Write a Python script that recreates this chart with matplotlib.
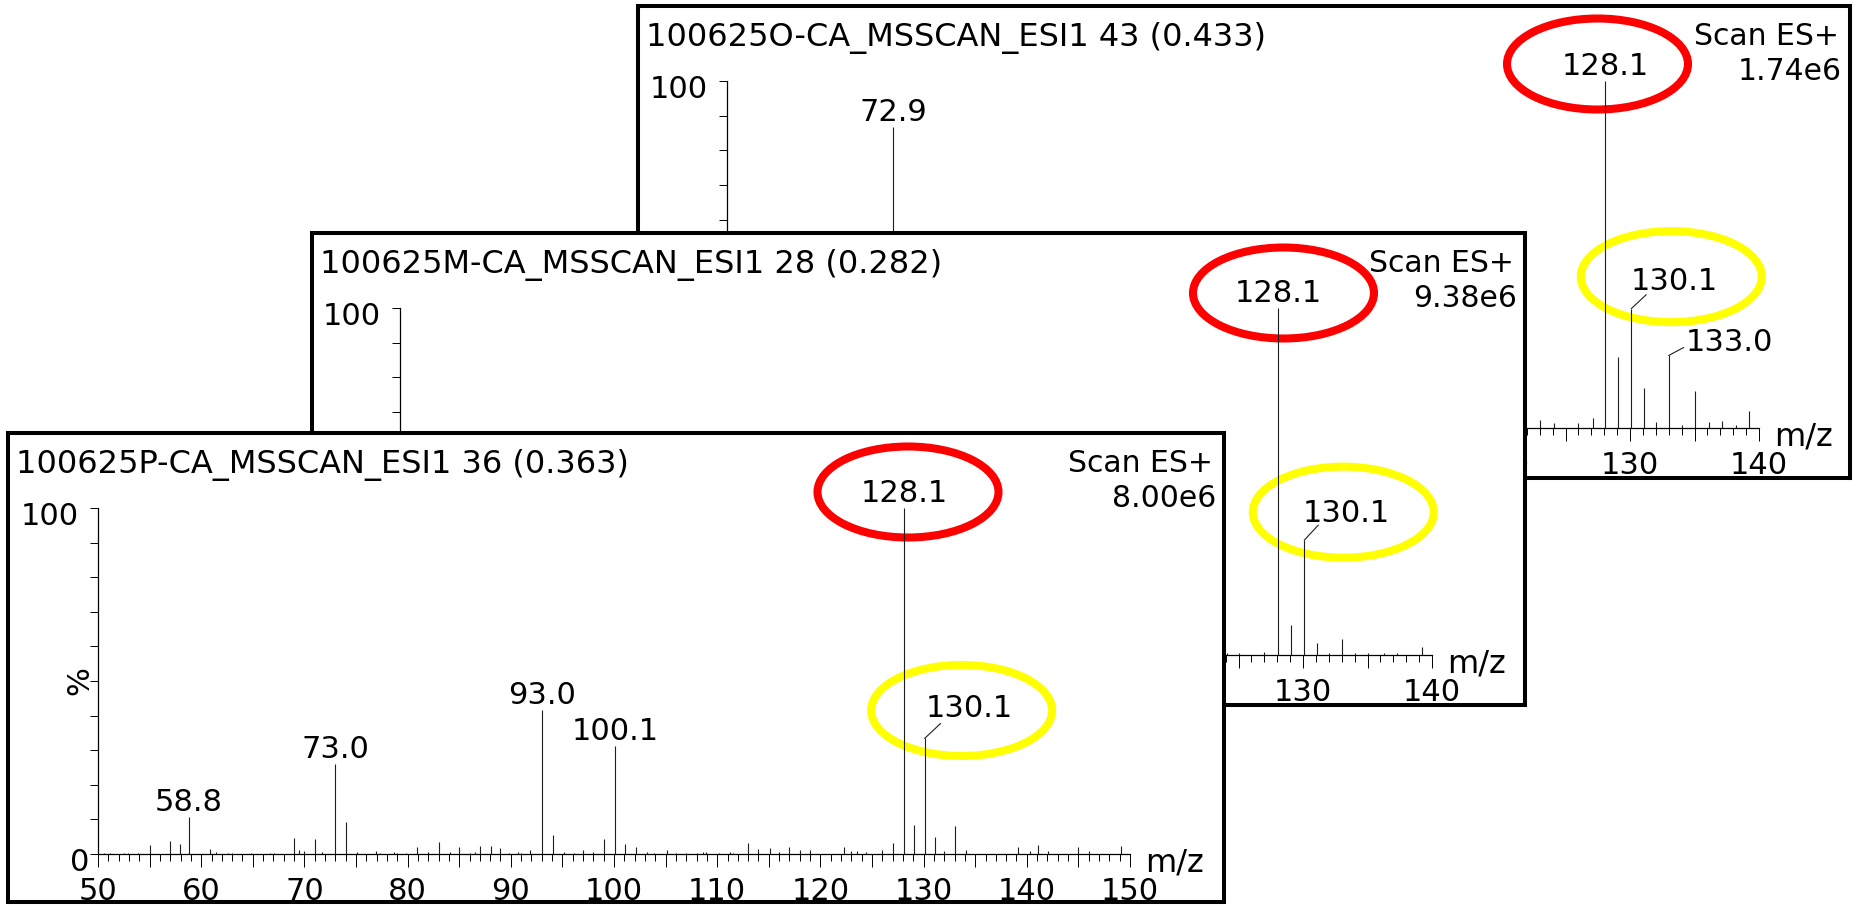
import matplotlib
matplotlib.use("Agg")
import matplotlib.pyplot as plt
from matplotlib.patches import Ellipse
from matplotlib.transforms import ScaledTranslation, blended_transform_factory
from matplotlib.ticker import MultipleLocator, FuncFormatter, FixedLocator

W, H, DPI = 1855, 905, 100
plt.rcParams["font.family"] = ["DejaVu Sans"]

# ------------------------------------------------------------------ data
# back spectrum (O)
o_title = "100625O-CA_MSSCAN_ESI1 43 (0.433)"
o_scan = "Scan ES+"
o_tic = "1.74e6"
o_range = (60, 140)
o_mz = [72.9, 123.0, 124.1, 126.0, 127.1, 128.1, 129.1, 130.1, 131.1, 132.0,
        133.0, 134.0, 135.0, 136.1, 137.1, 138.2, 139.2]
o_int = [86.7, 2.4, 1.3, 1.3, 2.9, 100.0, 20.5, 34.4, 11.6, 1.6,
         20.9, 0.8, 10.6, 1.7, 1.9, 1.0, 4.8]
o_labelled = [72.9, 128.1, 130.1, 133.0]

# middle spectrum (M)
m_title = "100625M-CA_MSSCAN_ESI1 28 (0.282)"
m_scan = "Scan ES+"
m_tic = "9.38e6"
m_range = (60, 140)
m_mz = [124.1, 125.0, 127.0, 128.1, 129.1, 130.1, 131.1, 132.0, 133.0, 134.0,
        135.0, 136.3, 137.3, 139.2]
m_int = [0.6, 0.7, 0.8, 100.0, 8.6, 33.1, 3.6, 0.5, 4.5, 0.7,
         0.5, 0.5, 0.7, 2.2]
m_labelled = [128.1, 130.1]

# front spectrum (P)
p_title = "100625P-CA_MSSCAN_ESI1 36 (0.363)"
p_scan = "Scan ES+"
p_tic = "8.00e6"
p_range = (50, 150)
p_mz = [50.6, 51.2, 52.5, 52.9, 53.9, 55.0, 57.0, 57.9, 58.8, 60.9, 61.4, 62.6,
        63.0, 64.8, 66.7, 67.1, 69.0, 69.5, 70.0, 71.0, 71.7, 73.0, 74.0, 75.1,
        76.9, 77.3, 78.7, 79.0, 79.8, 80.9, 82.0, 83.0, 84.1, 85.0, 86.0, 86.5,
        87.0, 88.1, 89.0, 89.8, 90.7, 91.0, 91.9, 93.0, 94.1, 95.2, 96.1, 97.0,
        98.0, 99.0, 100.1, 101.1, 102.1, 103.2, 103.9, 105.1, 106.0, 107.0,
        108.0, 108.6, 108.9, 110.2, 111.2, 111.5, 113.0, 114.0, 115.1, 116.0,
        117.0, 118.0, 119.0, 122.3, 123.0, 123.5, 124.4, 126.0, 127.0, 128.1,
        129.1, 130.1, 131.1, 132.0, 133.0, 134.1, 139.1, 140.3, 141.1, 142.1,
        145.0, 146.0, 149.1]
p_int = [0.4, 0.2, 0.4, 0.4, 0.2, 2.6, 3.8, 2.8, 10.6, 1.4, 0.5, 0.4,
         0.4, 0.2, 0.2, 0.2, 4.6, 1.1, 0.9, 4.3, 0.5, 26.0, 9.3, 0.6,
         0.9, 0.4, 0.5, 0.4, 0.4, 2.1, 0.7, 3.4, 0.7, 2.1, 0.4, 0.5,
         2.3, 2.3, 1.6, 0.2, 0.5, 0.4, 1.2, 41.6, 5.5, 0.7, 0.4, 1.2,
         0.5, 4.2, 31.3, 2.9, 1.9, 0.6, 0.4, 1.2, 0.4, 0.4,
         0.4, 0.5, 0.7, 0.4, 0.6, 0.4, 3.1, 1.4, 1.6, 0.6,
         2.1, 1.3, 1.3, 2.1, 0.9, 0.9, 0.7, 1.3, 3.1, 100.0,
         8.4, 33.4, 4.8, 0.9, 8.1, 1.2, 2.1, 0.9, 2.6, 0.9,
         1.9, 0.9, 2.3]
p_labelled = [58.8, 73.0, 93.0, 100.1, 128.1, 130.1]

# ------------------------------------------------------------------ layout / style
FS_TITLE, FS_LAB, FS_TICK = 23, 22, 22
LINE = "#1e1e1e"
ELL_W, ELL_H, ELL_LW = 181, 91, 5.8     # ellipse size (px) and stroke (pt)

panels = [
    dict(title=o_title, scan=o_scan, tic=o_tic, rng=o_range, mz=o_mz, it=o_int,
         lab=o_labelled, box=(638, 6, 1850, 478), axes=(727, 81, 1759, 428), z=1,
         offsets={130.1: (43, 19, 15, 14), 133.0: (61, 4, 15, 8)},
         ellipses=[(128.1, "#ff0000", -8, 17), (130.1, "#ffff00", 40, 32)]),
    dict(title=m_title, scan=m_scan, tic=m_tic, rng=m_range, mz=m_mz, it=m_int,
         lab=m_labelled, box=(312, 233, 1525, 705), axes=(400, 308, 1432, 655), z=3,
         offsets={130.1: (42, 18, 14, 15)},
         ellipses=[(128.1, "#ff0000", 5, 15), (130.1, "#ffff00", 39, 28)]),
    dict(title=p_title, scan=p_scan, tic=p_tic, rng=p_range, mz=p_mz, it=p_int,
         lab=p_labelled, box=(8, 433, 1224, 902), axes=(98, 508, 1130, 854), z=5,
         offsets={130.1: (45, 21, 16, 15)},
         ellipses=[(128.1, "#ff0000", 4, 16), (130.1, "#ffff00", 37, 28)]),
]


def px_rect(l, t, r, b):
    return [l / W, 1 - b / H, (r - l) / W, (b - t) / H]


fig = plt.figure(figsize=(W / DPI, H / DPI), dpi=DPI)
fig.patch.set_facecolor("white")


def off(dx, dy):
    return ScaledTranslation(dx / DPI, dy / DPI, fig.dpi_scale_trans)


for p in panels:
    # frame of the screenshot
    box = fig.add_axes(px_rect(*p["box"]), zorder=p["z"])
    box.set_facecolor("white")
    box.set_xticks([]); box.set_yticks([])
    for s in box.spines.values():
        s.set_linewidth(2.9); s.set_color("black")
    box.text(0, 1, p["title"], transform=box.transAxes + off(8, -40),
             ha="left", va="baseline", fontsize=FS_TITLE)
    box.text(1, 1, p["scan"], transform=box.transAxes + off(-11, -39),
             ha="right", va="baseline", fontsize=21.5)
    box.text(1, 1, p["tic"], transform=box.transAxes + off(-8, -74),
             ha="right", va="baseline", fontsize=21.5)

    # spectrum
    ax = fig.add_axes(px_rect(*p["axes"]), zorder=p["z"] + 0.5)
    ax.patch.set_visible(False)
    for k in ("top", "right"):
        ax.spines[k].set_visible(False)
    for k in ("left", "bottom"):
        ax.spines[k].set_linewidth(0.9)
        ax.spines[k].set_color("black")
    ax.vlines(p["mz"], 0, p["it"], colors=LINE, linewidth=0.8)

    heights = dict(zip(p["mz"], p["it"]))
    for mz in p["lab"]:
        h = heights[mz]
        dx, dy, lx, ly = p["offsets"].get(mz, (0, 6, None, None))
        ax.annotate(f"{mz:.1f}", xy=(mz, h), xytext=(dx, dy), textcoords="offset pixels",
                    ha="center", va="baseline", fontsize=FS_LAB, annotation_clip=False)
        if lx is not None:
            ax.annotate("", xy=(mz, h), xytext=(lx, ly), textcoords="offset pixels",
                        annotation_clip=False,
                        arrowprops=dict(arrowstyle="-", color=LINE, lw=0.8,
                                        shrinkA=0, shrinkB=0))
    for mz, col, ex, ey in p["ellipses"]:
        e = Ellipse((ex / DPI, ey / DPI), ELL_W / DPI, ELL_H / DPI, fill=False,
                    edgecolor=col, linewidth=ELL_LW,
                    transform=fig.dpi_scale_trans + ScaledTranslation(mz, heights[mz], ax.transData))
        e.set_clip_on(False)
        ax.add_artist(e)

    # axes, ticks
    ax.set_xlim(*p["rng"])
    ax.set_ylim(0, 100)
    ax.xaxis.set_major_locator(MultipleLocator(5))
    ax.xaxis.set_minor_locator(MultipleLocator(1))
    ax.xaxis.set_major_formatter(FuncFormatter(lambda v, pos: f"{v:.0f}" if round(v) % 10 == 0 else ""))
    ax.tick_params(axis="x", which="major", direction="out", length=9.4, width=0.7,
                   pad=7, labelsize=FS_TICK)
    ax.tick_params(axis="x", which="minor", direction="out", length=4.8, width=0.7)
    ax.yaxis.set_major_locator(FixedLocator([0, 100]))
    ax.yaxis.set_minor_locator(MultipleLocator(10))
    ax.tick_params(axis="y", which="both", direction="out", length=5.5, width=0.7,
                   labelleft=False)
    yt = blended_transform_factory(ax.transAxes, ax.transData)
    ax.text(0, 100, "100", transform=yt + off(-19, -17), ha="right", va="baseline",
            fontsize=FS_TICK)
    ax.text(0, 0, "0", transform=yt + off(-9, -17), ha="right", va="baseline",
            fontsize=FS_TICK)
    ax.text(0, 50, "%", transform=yt + off(-18, 0), ha="center", va="center",
            rotation=90, fontsize=FS_TICK)
    ax.text(1, 0, "m/z", transform=yt + off(15, -17),
            ha="left", va="baseline", fontsize=FS_TICK + 1)

fig.savefig("out.png", dpi=DPI, facecolor="white")
